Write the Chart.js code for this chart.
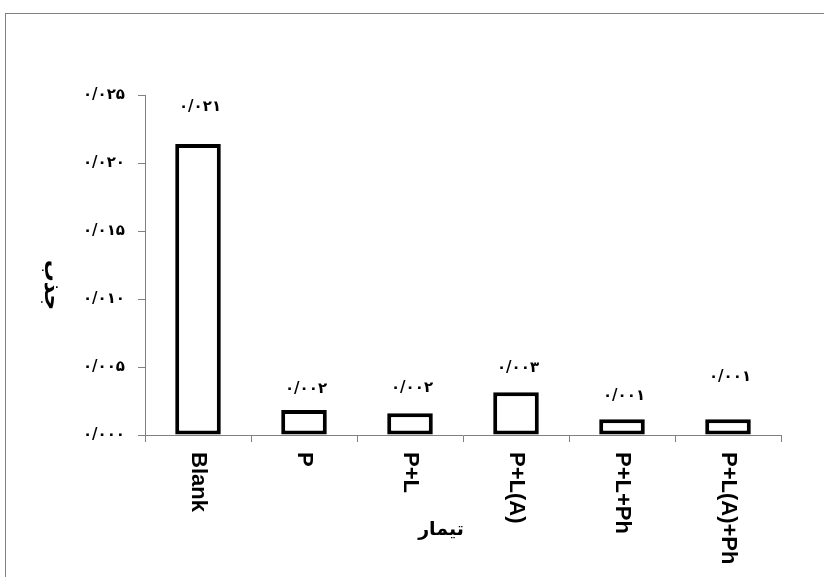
<!DOCTYPE html>
<html>
<head>
<meta charset="utf-8">
<script src="https://cdn.jsdelivr.net/npm/chart.js@4/dist/chart.umd.min.js"></script>
<style>
  html, body { margin: 0; padding: 0; background: #fff; overflow: hidden; }
  #wrap { position: relative; width: 824px; height: 577px; }
  #frame { position: absolute; left: 5px; top: 13px; width: 900px; height: 700px; border: 1px solid #808080; box-sizing: border-box; }
  #c { position: absolute; left: 0; top: 0; }
</style>
</head>
<body>
<div id="wrap">
  <div id="frame"></div>
  <canvas id="c" width="824" height="577"></canvas>
</div>
<script>
// ---- data ----
const categories = ['Blank', 'P', 'P+L', 'P+L(A)', 'P+L+Ph', 'P+L(A)+Ph'];
const absorbance = [0.0214, 0.00184, 0.0016, 0.00314, 0.00115, 0.00115];
const yTickValues = [0, 0.005, 0.010, 0.015, 0.020, 0.025];
const xTitle = 'تیمار';
const yTitle = 'جذب';

// ---- helpers ----
const faDigits = ['۰','۱','۲','۳','۴','۵','۶','۷','۸','۹'];
function toFa(v) {
  return v.toFixed(3).replace('.', '/').replace(/[0-9]/g, d => faDigits[+d]);
}

const labelOffsets = [37, 21, 25, 24, 23, 42];

const customText = {
  id: 'customText',
  afterDatasetsDraw(chart) {
    const ctx = chart.ctx;
    const xs = chart.scales.x;
    const ys = chart.scales.y;
    const meta = chart.getDatasetMeta(0);
    ctx.save();
    ctx.fillStyle = '#000';
    // value labels
    ctx.font = 'bold 15px "DejaVu Sans"';
    ctx.textAlign = 'center';
    ctx.textBaseline = 'middle';
    meta.data.forEach((bar, i) => {
      const v = absorbance[i];
      ctx.fillText(toFa(v), bar.x + 2, ys.getPixelForValue(v) - labelOffsets[i]);
    });
    // category labels rotated clockwise
    ctx.font = 'bold 22px "Liberation Sans"';
    ctx.textAlign = 'left';
    ctx.textBaseline = 'middle';
    categories.forEach((c, i) => {
      const x = xs.getPixelForValue(i);
      ctx.save();
      ctx.translate(x, ys.bottom + 17);
      ctx.rotate(Math.PI / 2);
      ctx.fillText(c, 0, 0);
      ctx.restore();
    });
    // x title
    ctx.font = 'bold 19px "DejaVu Sans"';
    ctx.textAlign = 'center';
    ctx.fillText(xTitle, 441, 530);
    // y title rotated clockwise
    ctx.save();
    ctx.translate(51, 285);
    ctx.rotate(Math.PI / 2);
    ctx.font = 'bold 22px "DejaVu Sans"';
    ctx.fillText(yTitle, 0, 0);
    ctx.restore();
    ctx.restore();
  }
};

new Chart(document.getElementById('c'), {
  type: 'bar',
  data: {
    labels: categories,
    datasets: [{
      data: absorbance,
      backgroundColor: '#ffffff',
      borderColor: '#000000',
      borderWidth: 4,
      borderSkipped: false,
      barPercentage: 0.43,
      categoryPercentage: 1
    }]
  },
  options: {
    responsive: false,
    animation: false,
    events: [],
    layout: { padding: { top: 95, right: 43, left: 0, bottom: 0 } },
    plugins: { legend: { display: false }, tooltip: { enabled: false } },
    scales: {
      x: {
        offset: true,
        ticks: { display: false },
        grid: { offset: true, drawOnChartArea: false, drawTicks: true, tickLength: 7, color: '#808080' },
        border: { color: '#808080', width: 1 },
        afterFit(scale) { scale.height = 142; }
      },
      y: {
        min: 0,
        max: 0.025,
        afterBuildTicks(scale) { scale.ticks = yTickValues.map(v => ({ value: v })); },
        ticks: {
          padding: 13,
          color: '#000',
          font: { family: 'DejaVu Sans', weight: 'bold', size: 15 },
          callback: v => toFa(v)
        },
        grid: { drawOnChartArea: false, drawTicks: true, tickLength: 7, color: '#808080' },
        border: { color: '#808080', width: 1 },
        afterFit(scale) { scale.width = 145; }
      }
    }
  },
  plugins: [customText]
});
</script>
</body>
</html>
